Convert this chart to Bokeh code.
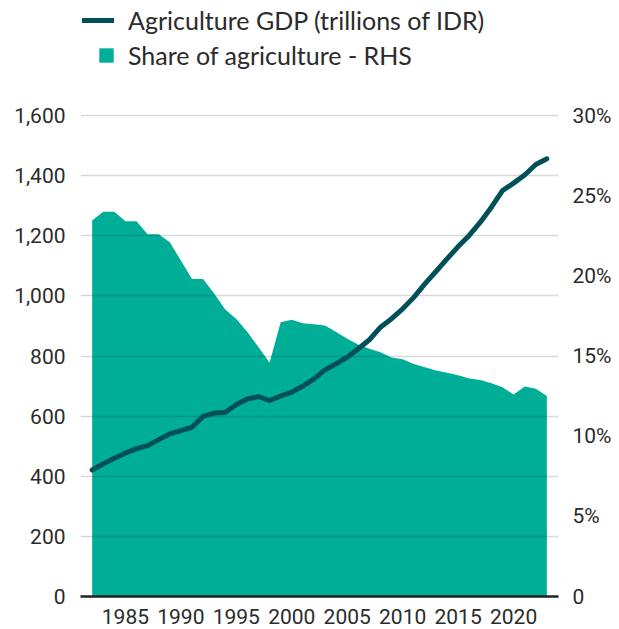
from bokeh.plotting import figure
from bokeh.models import (Range1d, LinearAxis, FixedTicker, NumeralTickFormatter,
                          CustomJSTickFormatter, Legend, LegendItem)
from bokeh.embed import file_html
from bokeh.resources import INLINE

years = list(range(1982, 2024))
gdp = [421, 441, 460, 477, 492, 502, 522, 541, 552, 563,
       599, 610, 612, 639, 657, 665, 652, 667, 680, 700,
       724, 754, 774, 796, 824, 854, 896, 924, 957, 995,
       1040, 1081, 1123, 1164, 1201, 1245, 1295, 1350, 1375, 1402,
       1437, 1456]
share = [23.45, 24.0, 24.0, 23.4, 23.4, 22.6, 22.6, 22.1, 20.96, 19.8,
         19.8, 18.9, 17.9, 17.3, 16.5, 15.55, 14.6, 17.1, 17.26, 17.05,
         16.98, 16.9, 16.5, 16.07, 15.7, 15.45, 15.24, 14.9, 14.8, 14.5,
         14.3, 14.1, 13.95, 13.8, 13.6, 13.5, 13.3, 13.05, 12.6, 13.1,
         12.95, 12.5]
left_ticks = [0, 200, 400, 600, 800, 1000, 1200, 1400, 1600]
right_ticks = [0, 5, 10, 15, 20, 25, 30]
x_ticks = [1985, 1990, 1995, 2000, 2005, 2010, 2015, 2020]
gdp_label = "Agriculture GDP (trillions of IDR)"
share_label = "Share of agriculture - RHS"

TEAL = "#00ae98"
DARK = "#00505a"
TXT = "#2b2b2b"
TICK_FONT = "Roboto"
LEG_FONT = "Lato"

# frame spans the whole height so the legend (drawn inside the frame) is not clipped;
# the top of the value range is left empty for the legend
FRAME_H = 596
PLOT_H = 481  # pixels used by 0..1600
left_top = 1600 * FRAME_H / PLOT_H
right_top = 30 * FRAME_H / PLOT_H

p = figure(frame_width=478, frame_height=FRAME_H, output_backend="svg",
           toolbar_location=None, x_range=Range1d(1980.95, 2024.05),
           y_range=Range1d(0, left_top),
           min_border_left=80, min_border_top=0, min_border_right=61,
           min_border_bottom=33)
p.outline_line_color = None
p.extra_y_ranges = {"share": Range1d(0, right_top)}

area = p.varea(x=years, y1=0, y2=share, fill_color=TEAL, y_range_name="share",
               level="image")
line = p.line(x=years, y=gdp, line_color=DARK, line_width=5,
              line_cap="round", line_join="round")

# axes
p.xaxis.ticker = FixedTicker(ticks=x_ticks)
p.yaxis.ticker = FixedTicker(ticks=left_ticks)
p.yaxis.formatter = NumeralTickFormatter(format="0,0")
ra = LinearAxis(y_range_name="share", ticker=FixedTicker(ticks=right_ticks),
                formatter=CustomJSTickFormatter(code="return tick == 0 ? '0' : tick + '%';"))
p.add_layout(ra, "right")

for ax in [p.xaxis[0], p.yaxis[0], ra]:
    ax.major_tick_line_color = None
    ax.minor_tick_line_color = None
    ax.major_tick_out = 0
    ax.major_tick_in = 0
    ax.minor_tick_out = 0
    ax.minor_tick_in = 0
    ax.major_label_text_font = TICK_FONT
    ax.major_label_text_font_size = "21px"
    ax.major_label_text_color = TXT
    ax.axis_line_color = None
p.xaxis[0].axis_line_color = "#222222"
p.xaxis[0].axis_line_width = 2.5
p.xaxis[0].major_label_standoff = 12
p.yaxis[0].major_label_standoff = 15
ra.major_label_standoff = 14

p.xgrid.grid_line_color = None
p.ygrid.ticker = FixedTicker(ticks=left_ticks)
p.ygrid.grid_line_color = "black"
p.ygrid.grid_line_alpha = 0.15
p.ygrid.grid_line_width = 1.5

# legends (location measured from the frame's bottom-left corner)
leg1 = Legend(items=[LegendItem(label=gdp_label, renderers=[line])],
              location=(2, 561), padding=0, margin=0, spacing=0,
              glyph_width=32, glyph_height=20, label_height=20,
              label_standoff=14, label_text_line_height=0.7,
              label_text_font=LEG_FONT, label_text_font_size="25px",
              label_text_color=TXT, background_fill_alpha=0,
              border_line_alpha=0)
leg2 = Legend(items=[LegendItem(label=share_label, renderers=[area])],
              location=(17, 526), padding=0, margin=0, spacing=0,
              glyph_width=18, glyph_height=18, label_height=18,
              label_standoff=13, label_text_line_height=0.7,
              label_text_font=LEG_FONT, label_text_font_size="25px",
              label_text_color=TXT, background_fill_alpha=0,
              border_line_alpha=0)
p.add_layout(leg1, "center")
p.add_layout(leg2, "center")

open("out.html", "w").write(file_html(p, INLINE))
